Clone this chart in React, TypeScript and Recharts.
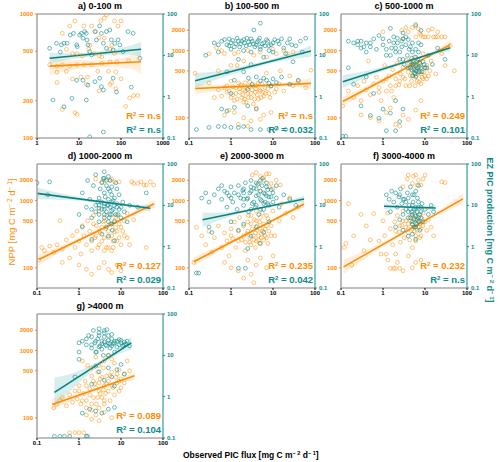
import React from 'react';
import { ComposedChart, Scatter, Line, Area, XAxis, YAxis, ReferenceLine } from 'recharts';

type Pt = [number, number];
type Bd = [number, number, number];

const ORANGE = '#FF8C00';
const TEAL = '#0E8A8A';
const GREY = '#A8A8A8';

const TITLES = ['a) 0-100 m', 'b) 100-500 m', 'c) 500-1000 m', 'd) 1000-2000 m', 'e) 2000-3000 m', 'f) 3000-4000 m', 'g) >4000 m'];
const R2_NPP = ['n.s', 'n.s', '0.249', '0.127', '0.235', '0.232', '0.089'];
const R2_PIC = ['n.s', '0.032', '0.101', '0.029', '0.042', 'n.s', '0.104'];
const X_DOMAIN_A: Pt = [1, 1000];
const X_DOMAIN: Pt = [0.1, 100];
const X_TICKS_A = [1, 10, 100, 1000];
const X_TICKS = [0.1, 1, 10, 100];
const NPP_DOMAIN_A: Pt = [100, 1000];
const NPP_DOMAIN: Pt = [50, 3500];
const NPP_TICKS_A = [100, 200, 500, 1000];
const NPP_TICKS = [100, 500, 1000, 2000];
const PIC_DOMAIN: Pt = [0.1, 100];
const PIC_TICKS = [0.1, 1, 10, 100];

// panel a
const NPP_A: Pt[] = [[4,700],[6,800],[8,880],[13,800],[20,800],[25,720],[33,880],[40,930],[45,980],[70,880],[85,800],[100,880],[5,520],[7,480],[9,480],[12,460],[17,520],[23,480],[30,460],[35,450],[55,520],[60,560],[70,480],[2,390],[3,380],[4,390],[6,380],[9,390],[13,390],[20,390],[35,400],[55,410],[80,410],[150,420],[3,340],[5,345],[7,300],[11,310],[16,310],[28,345],[50,345],[75,340],[60,280],[30,240],[3,280],[75,250],[160,210],[200,220],[4,170],[8,160],[9,155],[15,270],[55,270],[100,300],[18,560],[40,640],[30,640],[250,220],[130,180]];
const PIC_A: Pt[] = [[2,14.8],[2.9,19.6],[3.6,12],[3.8,17.9],[5.2,19.6],[6.2,31],[7.4,34],[8.8,17.9],[9.1,16.2],[10.4,31],[11.4,34],[12.5,26],[13.6,37.6],[14.9,34],[15.5,23.6],[18,12.3],[20,10.2],[24,37.6],[26,23.6],[31,51.5],[34,34],[38,19.6],[45,37.6],[45,14.8],[54,41],[59,23.6],[65,13.5],[71,19.6],[85,23.6],[112,12.3],[147,37.6],[195,34],[280,8.5],[8.8,2.5],[12.5,2.5],[16.3,1.9],[24,2.3],[31,2.8],[38,1.45],[65,2.8],[78,1.3],[176,1.7],[2.4,0.83],[4.4,0.57],[6.8,0.91],[14.9,0.83],[34,1.75],[18,0.107],[38,0.14],[4.4,19.6],[16.3,17.9],[94,17.9]];
const FIT_NPP_A: Pt[] = [[2,380],[300,412]];
const BAND_NPP_A: Bd[] = [[2,322,448],[6,350,425],[20,368,422],[60,372,432],[150,365,455],[300,330,512]];
const FIT_PIC_A: Pt[] = [[2,8.5],[300,14]];
const BAND_PIC_A: Bd[] = [[2,6.3,11.5],[6,7.9,11.3],[20,9.5,12],[60,10.2,14],[150,10.3,16.5],[300,9.3,21]];

// panel b
const NPP_B: Pt[] = [[0.14,460],[0.3,330],[0.4,200],[0.5,260],[0.6,1000],[0.7,900],[0.8,300],[0.9,250],[1,350],[1.1,220],[1.2,180],[1.3,280],[1.4,600],[1.5,950],[1.6,240],[1.7,310],[1.8,200],[2,260],[2.2,330],[2.3,170],[2.5,230],[2.7,290],[3,200],[3.2,260],[3.5,850],[3.8,240],[4,300],[4.5,190],[5,250],[5.5,320],[6,210],[6.5,280],[7,460],[8,230],[9,300],[10,1050],[12,270],[14,320],[18,250],[22,900],[30,300],[40,350],[60,280],[80,510],[1.2,120],[2,100],[3,90],[1.5,80],[4,140],[6,110],[2.5,75],[0.9,130],[0.7,110],[5,95],[9,120],[1,600],[2,700],[0.5,500],[15,500],[25,420],
  [0.8,240],[1,200],[1.1,290],[1.3,230],[1.4,190],[1.6,270],[1.8,300],[1.9,220],[2.1,190],[2.2,250],[2.4,280],[2.6,200],[2.8,340],[3,230],[3.3,300],[3.6,190],[3.9,270],[4.2,220],[4.8,260],[5.2,200],[5.8,240],[6.5,230],[7.5,270],[8.5,200],[11,240],[0.6,210],[0.7,280],[1.5,330],[2,170],[3.4,160],[4.4,330],[1.2,900],[2.5,1000],[5,950],[7,800],[0.3,900],[0.45,1100],[12,900],[18,1000],[30,950]];
const PIC_B: Pt[] = [[0.15,0.16],[0.3,0.18],[0.5,0.19],[0.7,0.19],[1,0.18],[1.5,0.18],[2,0.19],[3,0.16],[5,0.16],[8,0.16],[12,0.17],[20,0.16],[0.6,0.5],[0.8,0.45],[1.2,0.55],[2.5,0.6],[4,0.5],[0.4,20],[0.6,22],[0.8,18],[0.9,25],[1,20],[1.2,16],[1.5,22],[1.7,19],[2,24],[2.3,17],[2.6,21],[3,25],[3.4,19],[4,18],[4.5,23],[5,16],[6,20],[7,24],[8,17],[10,20],[13,22],[18,15],[25,25],[35,17],[60,26],[0.25,10],[0.5,12],[3.5,41],[5,60],[1.5,8],[3,6],[6,9],[10,12],[20,11],[2,4],[4,3],[7,2.5],[9,1.8],[12,2.2],[16,3],[25,2],[40,2.5],[1.2,2.5],[30,7],[50,12],[0.8,4],[1,1.2],[2.5,1.5],
  [0.5,18],[0.7,24],[0.9,17],[1.1,23],[1.3,19],[1.4,26],[1.6,16],[1.8,22],[2.1,20],[2.4,26],[2.8,18],[3.2,22],[3.7,16],[4.2,21],[4.8,26],[5.5,19],[6.5,17],[7.5,22],[9,18],[11,24],[14,19],[16,25],[22,20],[28,18],[45,22],[1,14],[2,13],[3,12],[5,14],[8,13],[2.6,2.8],[3.2,2],[5,2.4],[6,2.8],[8,2.1],[10,2.7]];
const FIT_NPP_B: Pt[] = [[0.14,272],[80,325]];
const BAND_NPP_B: Bd[] = [[0.14,225,330],[0.5,255,310],[2,275,312],[10,288,326],[30,290,345],[80,270,390]];
const FIT_PIC_B: Pt[] = [[0.14,2.44],[80,12.7]];
const BAND_PIC_B: Bd[] = [[0.14,1.6,3.7],[0.5,2.7,4.2],[2,4.2,5.6],[10,6.6,8.3],[30,8.2,11.8],[80,9.3,17.2]];

// panel c
const NPP_C: Pt[] = [[0.11,150],[0.15,250],[0.2,200],[0.25,300],[0.3,180],[0.35,350],[0.4,260],[0.45,700],[0.5,220],[0.6,320],[0.7,400],[0.8,280],[0.9,180],[1,350],[1.1,600],[1.2,250],[1.4,420],[1.5,300],[1.7,520],[1.8,200],[2,380],[2.2,650],[2.4,310],[2.6,450],[2.8,2000],[3,560],[3.3,380],[3.6,720],[4,480],[4.3,300],[4.6,600],[5,2200],[5.3,420],[5.6,800],[6,520],[6.5,350],[7,650],[7.5,1800],[8,450],[9,900],[10,550],[11,380],[12,1600],[14,700],[16,1600],[18,450],[20,1600],[25,900],[30,600],[40,1200],[50,500],[0.5,100],[0.8,90],[1.2,120],[2,80],[3,110],[4,95],[6,130],[2.5,75],[1.5,140],[0.3,110],[8,180],[1,1900],[3,1500],[15,2100],
  [3,400],[3.5,300],[3.8,550],[4.2,650],[4.5,420],[4.8,350],[5,500],[5.4,600],[5.8,300],[6.2,420],[6.8,550],[7.2,340],[7.8,600],[8.5,400],[9.5,480],[11,600],[12,420],[13,500],[5,700],[6,620],[7,460],[8,320],[9,380],[10,420],[2.5,350],[2,300],[1.6,250],[1.2,380],[0.8,240],[6,1600],[7,2100],[8,1700],[9,1600],[10,1600],[4,1900],[3.5,2200],[6,2300],[12,2000],[20,1900],[25,1600],[30,1600],[18,1600]];
const PIC_C: Pt[] = [[0.11,0.11],[0.13,0.11],[0.2,20],[0.25,18],[0.3,22],[0.35,16],[0.4,12],[0.5,20],[0.6,25],[0.7,14],[0.8,30],[1,18],[1.2,10],[1.4,22],[1.6,15],[1.8,28],[2,12],[2.2,20],[2.5,8],[2.8,16],[3,25],[3.2,6],[3.5,18],[3.8,10],[4,5],[4.2,14],[4.5,7],[4.8,4.5],[5,20],[5.3,6],[5.6,3.8],[6,9],[6.5,5],[7,12],[7.5,4],[8,18],[9,7],[10,5],[12,10],[15,6],[20,15],[30,8],[0.3,0.6],[0.5,0.35],[0.8,0.3],[1,0.5],[1.5,0.4],[2,0.8],[2.5,0.25],[0.6,1.2],[1.2,0.15],[2,0.15],[3,0.5],[0.2,2],[0.4,3],[6,55],[8,40],[3,35],[1.5,45],[0.15,5],
  [4.5,5],[5,6],[5.5,4.5],[6,5.5],[6.5,7],[7,4],[7.5,6.5],[8,5],[5.2,7.5],[5.8,3.5],[6.2,4.2],[6.8,8],[4.8,8.5],[7.2,5.2],[5,3.2],[6,3],[8.5,4],[9.5,6],[11,5],[3,8],[2.5,12],[2,15],[1.5,10],[1,25],[1.2,14],[1.8,20],[2.2,26],[2.8,22],[3.5,28],[4,24],[4.5,16],[5,12],[6,14],[7,20],[0.3,15],[0.4,20],[0.5,16],[0.25,22],[0.15,22]];
const FIT_NPP_C: Pt[] = [[0.11,175],[40,1225]];
const BAND_NPP_C: Bd[] = [[0.11,148,205],[0.5,265,315],[2,430,480],[10,735,815],[40,1060,1420]];
const FIT_PIC_C: Pt[] = [[0.11,2.3],[40,15.3]];
const BAND_PIC_C: Bd[] = [[0.11,1.6,3.3],[0.5,3.2,4.4],[2,5.3,6.4],[10,9.1,10.5],[40,12.8,18.3]];

// panel d
const NPP_D: Pt[] = [[0.11,130],[0.13,200],[0.15,180],[0.2,210],[0.25,170],[0.3,220],[0.35,500],[0.4,190],[0.5,260],[0.6,140],[0.7,300],[0.8,200],[0.9,350],[1,250],[1.1,160],[1.2,420],[1.3,300],[1.5,220],[1.6,500],[1.8,350],[2,180],[2.2,600],[2.4,280],[2.6,420],[2.8,200],[3,700],[3.2,330],[3.5,250],[3.8,480],[4,180],[4.3,380],[4.6,600],[5,280],[5.5,2000],[6,450],[6.5,200],[7,340],[7.5,560],[8,250],[9,1900],[10,400],[12,300],[14,650],[16,220],[18,1900],[25,1800],[35,1700],[50,1900],[60,1700],[3,100],[5,95],[8,110],[1.5,95],[2,80],[4,120],[10,90],[6,85],[2.5,2100],[1,110],[0.4,120],[40,200],[20,520],
  [2,250],[2.5,300],[3,220],[3.5,400],[4,280],[4.5,200],[5,350],[5.5,450],[6,300],[6.5,250],[7,500],[7.5,400],[8,350],[9,280],[10,220],[11,350],[5,200],[6,180],[4,500],[3,350],[2.2,450],[8,600],[9,450],[12,500],[14,280],[4,2000],[6,2100],[3.5,1900],[7,1900],[20,1800],[30,1900],[40,1700]];
const PIC_D: Pt[] = [[0.1,35],[0.2,37],[0.18,18],[1,6],[1.2,20],[1.5,9],[1.8,14],[2,5],[2.2,30],[2.5,7],[2.8,12],[3,4],[3.2,25],[3.5,8],[3.8,45],[4,6],[4.2,16],[4.5,3],[4.8,10],[5,50],[5.2,5],[5.5,22],[6,7.5],[6.2,2.5],[6.5,13],[7,4],[7.5,35],[8,9],[8.5,6],[9,18],[10,5],[11,12],[12,7],[14,4],[16,10],[2,1.5],[3.5,2],[5,1.8],[7,1.4],[3,10],[4,65],[4.5,40],[6,28],[2.5,55],[1.2,3],[1.6,40],[8,25],[40,20],[25,9],[5.5,9],[3,8.5],[4,9.5],
  [2,8],[2.5,10],[3,6],[3.5,12],[4,8],[4.5,7],[5,10],[5.5,6],[6,12],[6.5,8],[7,10],[7.5,6],[8,11],[9,8],[10,9],[4,5],[5,4],[6,3.5],[3,15],[4,20],[5,25],[6,18],[7,15],[4.5,30],[3.5,35],[5.5,40],[4,45],[5,14],[6,6],[4,11]];
const FIT_NPP_D: Pt[] = [[0.11,133],[62,894]];
const BAND_NPP_D: Bd[] = [[0.11,110,160],[0.5,192,230],[2,302,335],[10,495,540],[62,770,1040]];
const FIT_PIC_D: Pt[] = [[0.1,19.5],[50,8.5]];
const BAND_PIC_D: Bd[] = [[0.1,14,27],[0.5,13.5,18.3],[2,12.2,14],[10,10,11.1],[50,7,10.3]];

// panel e
const NPP_E: Pt[] = [[0.13,120],[0.15,400],[0.2,300],[0.25,220],[0.3,350],[0.35,170],[0.4,280],[0.5,420],[0.6,200],[0.7,330],[0.8,250],[0.9,150],[1,380],[1.1,270],[1.2,480],[1.3,200],[1.5,350],[1.6,560],[1.8,260],[2,420],[2.2,180],[2.4,320],[2.6,600],[2.8,240],[3,450],[3.2,2400],[3.4,300],[3.6,520],[3.8,200],[4,700],[4.2,360],[4.5,260],[4.8,480],[5,1400],[5.3,320],[5.6,650],[6,2200],[6.5,380],[7,280],[7.5,540],[8,1600],[9,420],[10,700],[11,300],[12,2000],[14,500],[16,900],[20,650],[25,1100],[30,560],[40,800],[1,100],[1.5,90],[2,70],[3,80],[4,110],[2.5,130],[5,140],[7,100],[10,150],[0.7,120],[3.5,60],[4,2600],[8,2500],
  [2,300],[2.2,240],[2.5,350],[2.8,280],[3,220],[3.2,380],[3.5,260],[3.8,330],[4,250],[4.2,420],[4.5,300],[4.8,230],[5,380],[5.3,280],[5.6,350],[6,260],[6.5,300],[7,420],[7.5,230],[8,350],[9,300],[3,600],[4,500],[5,560],[6,450],[7,600],[2.5,480],[1.5,250],[1,300],[6,2000],[7,2500],[5,2300],[9,1800],[10,1500],[4.5,1800],[15,1700]];
const PIC_E: Pt[] = [[0.2,15],[0.25,20],[0.3,12],[0.4,18],[0.5,25],[0.6,14],[0.7,22],[0.8,9],[0.9,17],[1,28],[1.1,12],[1.2,20],[1.4,8],[1.5,30],[1.7,15],[1.9,23],[2,10],[2.2,35],[2.4,14],[2.6,7],[2.8,20],[3,40],[3.2,11],[3.5,26],[3.8,9],[4,17],[4.3,32],[4.6,6],[5,22],[5.3,13],[5.6,45],[6,8],[6.5,19],[7,28],[7.5,11],[8,16],[9,24],[10,12],[12,30],[14,9],[18,18],[25,14],[35,10],[1,4],[1.5,2.5],[2,3.5],[3,1.8],[4,3],[5,1.2],[2.5,0.9],[6,2.2],[8,4],[0.15,0.23],[0.17,0.23],[1.5,0.3],[2.2,0.3],[0.3,3],[0.35,2.2],
  [2,20],[2.5,15],[3,22],[3.5,12],[4,25],[4.5,18],[5,14],[5.5,30],[6,20],[6.5,12],[7,17],[7.5,24],[8,10],[9,16],[10,20],[4,10],[5,8],[6,11],[3,8],[2,14],[1.5,18],[1,15],[0.8,20],[0.6,30],[3,28],[4,35],[5,40],[7,35],[2,25],[12,15]];
const FIT_NPP_E: Pt[] = [[0.13,123],[55,890]];
const BAND_NPP_E: Bd[] = [[0.13,105,145],[0.5,175,210],[2,290,313],[10,492,527],[55,790,1000]];
const FIT_PIC_E: Pt[] = [[0.21,4.5],[55,14.2]];
const BAND_PIC_E: Bd[] = [[0.21,3,6.7],[0.5,4.3,6.6],[2,6.7,7.7],[10,9.5,10.5],[55,11.8,17]];

// panel f
const NPP_F: Pt[] = [[0.12,200],[0.13,230],[0.15,900],[0.2,300],[0.3,620],[0.35,180],[0.4,420],[0.5,260],[0.6,640],[0.8,250],[0.9,160],[1,500],[1.1,300],[1.2,160],[1.3,650],[1.5,380],[1.7,220],[1.9,480],[2,160],[2.2,600],[2.4,340],[2.6,240],[2.8,430],[3,700],[3.2,280],[3.5,500],[3.8,2100],[4,380],[4.3,260],[4.6,600],[5,440],[5.3,2300],[5.6,350],[6,520],[6.5,1700],[7,400],[7.5,280],[8,470],[9,650],[10,2400],[11,360],[12,520],[14,400],[16,300],[25,1900],[30,1850],[1.5,98],[1.8,98],[2,98],[2.5,98],[3,90],[1.3,130],[4,150],[6,120],[2.2,120],[5,100],[8,130],[0.18,110],
  [4,450],[4.5,500],[5,380],[5.5,540],[6,420],[6.5,360],[7,500],[7.5,450],[8,380],[8.5,540],[9,420],[10,480],[5,600],[6,300],[7,600],[4,330],[3.5,400],[3,500],[2.5,420],[2,350],[5,200],[6,250],[8,300],[3,1600],[5,1800],[6,2400],[7,2000],[8,1700],[4,2400],[9,2100]];
const PIC_F: Pt[] = [[1.2,18],[1.4,14],[1.6,22],[1.8,12],[2,20],[2.2,9],[2.4,16],[2.6,25],[2.8,11],[3,6],[3.2,14],[3.5,8],[3.8,20],[4,5],[4.2,10],[4.5,28],[4.8,7],[5,4],[5.2,12],[5.5,3],[5.8,6],[6,9],[6.3,3.5],[6.6,15],[7,5],[7.5,2.5],[8,7],[8.5,11],[9,4],[10,8],[12,6],[14,10],[5,2],[6,1.5],[4,1.8],[3,2.5],[7,30],[2,3],[2.5,4.5],[5.5,18],[16,7],[1.5,7],
  [4.5,5],[5,6],[5.5,4.5],[6,5.5],[6.5,7],[7,4],[7.5,6],[8,5],[5,3.5],[6,3],[5.5,8],[6.5,4.5],[4.5,8],[4,7],[3.5,12],[4,15],[5,18],[6,22],[7,12],[3,14],[2.5,18],[5,10],[6,8],[7,9],[8,9]];
const FIT_NPP_F: Pt[] = [[0.115,103],[80,1060]];
const BAND_NPP_F: Bd[] = [[0.115,80,133],[0.5,155,195],[2,268,300],[10,485,525],[80,880,1270]];
const FIT_PIC_F: Pt[] = [[1.06,9.5],[18,8.6]];
const BAND_PIC_F: Bd[] = [[1.06,8,11.3],[3,8.6,9.8],[6,8.4,9.5],[18,7.2,10.3]];

// panel g
const NPP_G: Pt[] = [[0.25,140],[0.3,160],[0.35,180],[0.4,200],[0.5,150],[0.6,220],[0.7,170],[0.8,250],[0.9,190],[1,300],[1.1,160],[1.2,700],[1.3,230],[1.4,350],[1.5,180],[1.6,600],[1.8,270],[2,420],[2.2,200],[2.4,320],[2.6,160],[2.8,480],[3,250],[3.2,380],[3.5,200],[3.8,550],[4,300],[4.3,230],[4.6,420],[5,350],[5.5,180],[6,480],[6.5,280],[7,650],[7.5,400],[8,330],[9,520],[10,380],[12,450],[14,700],[16,500],[1.5,110],[2,95],[2.5,110],[3,90],[4,120],[6,100],[0.6,60],[0.8,60],[1,60],[1.3,60],[5,850],[2.5,800],[9,250],
  [1,250],[1.2,180],[1.5,300],[1.8,220],[2,160],[2.2,350],[2.5,280],[2.8,200],[3,330],[3.2,230],[3.5,400],[3.8,260],[4,180],[4.5,320],[5,250],[5.5,420],[6,300],[7,220],[8,450],[9,350],[10,280],[12,330],[2,550],[3,600],[4,700],[6,750],[2,130],[3,140],[4,160],[1.5,140]];
const PIC_G: Pt[] = [[0.26,0.11],[0.35,0.11],[0.45,0.11],[0.6,0.11],[1.5,0.11],[1.6,0.11],[1.2,0.4],[1.8,0.5],[2.5,0.45],[3.5,0.4],[5,0.5],[7,0.55],[1,12],[1.2,22],[1.5,18],[1.7,30],[2,15],[2.2,40],[2.4,20],[2.6,12],[2.8,25],[3,35],[3.2,17],[3.5,22],[3.8,10],[4,28],[4.3,18],[4.6,42],[5,20],[5.5,15],[6,25],[6.5,19],[7,22],[8,16],[9,24],[10,20],[12,18],[14,22],[16,17],[3,4],[4,2.5],[5,5],[6,3],[7,1.8],[8,4.5],[10,6],[12,3.5],[2,2],[2.5,5.5],[0.8,3],[1,8],
  [2,18],[2.5,22],[3,16],[3.5,19],[4,21],[4.5,17],[5,23],[5.5,19],[6,17],[7,20],[8,22],[9,18],[10,23],[11,17],[12,21],[13,19],[2,28],[3,30],[4,35],[5,30],[6,32],[1.5,25],[1,20],[2.5,12],[3.5,14],[5,10],[7,12],[4,40],[3,44]];
const FIT_NPP_G: Pt[] = [[0.23,158],[21,422]];
const BAND_NPP_G: Bd[] = [[0.23,128,195],[0.5,165,210],[2,240,266],[6,308,337],[21,370,485]];
const FIT_PIC_G: Pt[] = [[0.26,1.27],[17.6,20]];
const BAND_PIC_G: Bd[] = [[0.26,0.55,2.9],[0.5,1.1,3.3],[2,4,5.8],[6,8.8,11.1],[17.6,14,28]];

const NPP_SETS = [NPP_A, NPP_B, NPP_C, NPP_D, NPP_E, NPP_F, NPP_G];
const PIC_SETS = [PIC_A, PIC_B, PIC_C, PIC_D, PIC_E, PIC_F, PIC_G];
const FIT_NPP = [FIT_NPP_A, FIT_NPP_B, FIT_NPP_C, FIT_NPP_D, FIT_NPP_E, FIT_NPP_F, FIT_NPP_G];
const FIT_PIC = [FIT_PIC_A, FIT_PIC_B, FIT_PIC_C, FIT_PIC_D, FIT_PIC_E, FIT_PIC_F, FIT_PIC_G];
const BAND_NPP = [BAND_NPP_A, BAND_NPP_B, BAND_NPP_C, BAND_NPP_D, BAND_NPP_E, BAND_NPP_F, BAND_NPP_G];
const BAND_PIC = [BAND_PIC_A, BAND_PIC_B, BAND_PIC_C, BAND_PIC_D, BAND_PIC_E, BAND_PIC_F, BAND_PIC_G];

// layout (plot box positions)
const LAYOUT = [
  { left: 37, top: 14 }, { left: 189, top: 14 }, { left: 341, top: 14 },
  { left: 37, top: 164 }, { left: 189, top: 164 }, { left: 341, top: 164 },
  { left: 37, top: 314 },
];
const PW = 126;
const PH = 124;
const AXW = 30;

const toPts = (a: Pt[]) => a.map(([x, y]) => ({ x, y }));
const toBand = (a: Bd[]) => a.map(([x, lo, hi]) => ({ x, band: [lo, hi] }));

const ring = (color: string, op: number) => (props: any) => {
  const { cx, cy } = props;
  if (cx == null || cy == null) return <g />;
  return <circle cx={cx} cy={cy} r={1.9} fill="none" stroke={color} strokeOpacity={op} strokeWidth={0.85} />;
};

const tickStyle = (c: string) => ({ fontSize: 6, fontWeight: 'bold' as const, fill: c });

function Panel({ i }: { i: number }) {
  const { left, top } = LAYOUT[i];
  const isA = i === 0;
  const nppDomain = isA ? NPP_DOMAIN_A : NPP_DOMAIN;
  return (
    <div style={{ position: 'absolute', left: left - AXW, top: top - 2 }}>
      <ComposedChart width={PW + 2 * AXW} height={PH + 16} margin={{ top: 2, right: 0, bottom: 0, left: 0 }}>
        <XAxis
          dataKey="x" type="number" scale="log" domain={isA ? X_DOMAIN_A : X_DOMAIN} allowDataOverflow
          ticks={isA ? X_TICKS_A : X_TICKS} interval={0} height={14} tickSize={2} tickMargin={1}
          tick={tickStyle('#000')} axisLine={{ stroke: GREY, strokeWidth: 1.6 }} tickLine={{ stroke: '#000' }}
        />
        <YAxis
          yAxisId="npp" orientation="left" type="number" scale="log" domain={nppDomain} allowDataOverflow
          ticks={isA ? NPP_TICKS_A : NPP_TICKS} interval={0} width={AXW} tickSize={2} tickMargin={2}
          tick={tickStyle(ORANGE)} axisLine={{ stroke: GREY, strokeWidth: 1.6 }} tickLine={{ stroke: ORANGE }}
        />
        <YAxis
          yAxisId="pic" orientation="right" type="number" scale="log" domain={PIC_DOMAIN} allowDataOverflow
          ticks={PIC_TICKS} interval={0} width={AXW} tickSize={2} tickMargin={2}
          tick={tickStyle(TEAL)} axisLine={{ stroke: TEAL, strokeWidth: 1 }} tickLine={{ stroke: TEAL }}
        />
        <ReferenceLine yAxisId="npp" y={nppDomain[1]} stroke={GREY} strokeWidth={1.6} />
        <Scatter yAxisId="npp" data={toPts(NPP_SETS[i])} dataKey="y" shape={ring(ORANGE, 0.6)} isAnimationActive={false} />
        <Scatter yAxisId="pic" data={toPts(PIC_SETS[i])} dataKey="y" shape={ring(TEAL, 0.7)} isAnimationActive={false} />
        <Area yAxisId="npp" data={toBand(BAND_NPP[i])} dataKey="band" type="monotone" stroke="none" fill="#FFD9AE" fillOpacity={0.45} isAnimationActive={false} />
        <Area yAxisId="pic" data={toBand(BAND_PIC[i])} dataKey="band" type="monotone" stroke="none" fill="#A9DAD8" fillOpacity={0.45} isAnimationActive={false} />
        <Line yAxisId="npp" data={toPts(FIT_NPP[i])} dataKey="y" stroke={ORANGE} strokeWidth={1.6} dot={false} isAnimationActive={false} />
        <Line yAxisId="pic" data={toPts(FIT_PIC[i])} dataKey="y" stroke="#08807F" strokeWidth={1.6} dot={false} isAnimationActive={false} />
      </ComposedChart>
    </div>
  );
}

function R2({ x, y, value, color }: { x: number; y: number; value: string; color: string }) {
  return (
    <text x={x} y={y} textAnchor="end" fill={color} fontSize={9.5} fontWeight="bold">
      R<tspan dy={-3.5} fontSize={6}>2</tspan><tspan dy={3.5}>{` = ${value}`}</tspan>
    </text>
  );
}

export default function App() {
  return (
    <div style={{ position: 'absolute', left: 0, top: 0, width: 500, height: 462, background: '#fff', fontFamily: "'Liberation Sans', Arial, sans-serif" }}>
      {LAYOUT.map((_, i) => <Panel key={i} i={i} />)}
      <svg width={500} height={462} style={{ position: 'absolute', left: 0, top: 0, pointerEvents: 'none' }}>
        {LAYOUT.map((l, i) => (
          <g key={i}>
            <text x={l.left + PW / 2} y={l.top - 5} textAnchor="middle" fontSize={9} fontWeight="bold" fill="#000">{TITLES[i]}</text>
            <R2 x={l.left + PW - 2} y={l.top + PH - 19} value={R2_NPP[i]} color={ORANGE} />
            <R2 x={l.left + PW - 2} y={l.top + PH - 5} value={R2_PIC[i]} color={TEAL} />
          </g>
        ))}
        <text transform="translate(15,222) rotate(-90)" textAnchor="middle" fill={ORANGE} fontSize={9.5}>
          NPP [mg C m<tspan dy={-3} fontSize={6.5}>− 2</tspan><tspan dy={3}> d</tspan><tspan dy={-3} fontSize={6.5}>− 1</tspan><tspan dy={3}>]</tspan>
        </text>
        <text transform="translate(487,230) rotate(90)" textAnchor="middle" fill={TEAL} fontSize={9} fontWeight="bold">
          EZ PIC production [mg C m<tspan dy={-3} fontSize={6}>− 2</tspan><tspan dy={3}> d</tspan><tspan dy={-3} fontSize={6}>− 1</tspan><tspan dy={3}>]</tspan>
        </text>
        <text x={183} y={458} fill="#000" fontSize={8.5} fontWeight="bold">
          Observed PIC flux [mg C m<tspan dy={-3} fontSize={5.5}>− 2</tspan><tspan dy={3}> d</tspan><tspan dy={-3} fontSize={5.5}>− 1</tspan><tspan dy={3}>]</tspan>
        </text>
      </svg>
    </div>
  );
}
